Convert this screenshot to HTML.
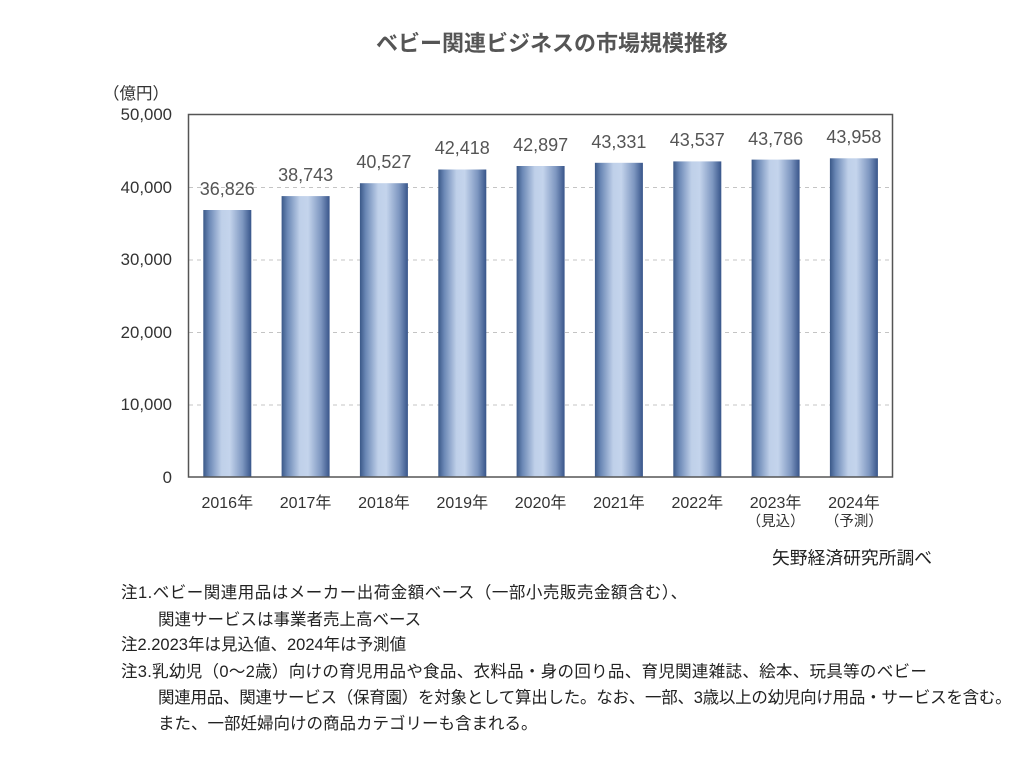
<!DOCTYPE html>
<html><head><meta charset="utf-8">
<style>
html,body{margin:0;padding:0;background:#fff;}
body{width:1024px;height:766px;position:relative;overflow:hidden;font-family:"Liberation Sans","Noto Sans CJK JP",sans-serif;color:#333;}
.n{position:absolute;white-space:nowrap;font-size:16.5px;line-height:20px;font-family:"Liberation Sans","Noto Sans CJK JP",sans-serif;color:#222;}
</style></head><body>
<svg width="1024" height="766" style="position:absolute;left:0;top:0" xmlns="http://www.w3.org/2000/svg">
<defs>
<linearGradient id="g" x1="0" y1="0" x2="1" y2="0">
<stop offset="0" stop-color="#3a5888"/>
<stop offset="0.12" stop-color="#6a87b5"/>
<stop offset="0.38" stop-color="#bfd0e9"/>
<stop offset="0.55" stop-color="#c4d4ec"/>
<stop offset="0.82" stop-color="#7d96c0"/>
<stop offset="1" stop-color="#38558a"/>
</linearGradient>
</defs>
<text x="552" y="51" text-anchor="middle" font-family="Liberation Sans, Noto Sans CJK JP, sans-serif" font-size="22" font-weight="bold" fill="#555">ベビー関連ビジネスの市場規模推移</text>
<text x="103" y="99" font-family="Liberation Sans, Noto Sans CJK JP, sans-serif" font-size="16.5" fill="#333">（億円）</text>
<g stroke="#c4c4c4" stroke-width="1" stroke-dasharray="4,4">
<line x1="189" y1="187.5" x2="892" y2="187.5"/>
<line x1="189" y1="260" x2="892" y2="260"/>
<line x1="189" y1="332.5" x2="892" y2="332.5"/>
<line x1="189" y1="405" x2="892" y2="405"/>
</g>
<g font-family="Liberation Sans, sans-serif" font-size="16.8" fill="#333" text-anchor="end">
<text x="172" y="120">50,000</text>
<text x="172" y="193">40,000</text>
<text x="172" y="265">30,000</text>
<text x="172" y="338">20,000</text>
<text x="172" y="410">10,000</text>
<text x="172" y="483">0</text>
</g>
<g fill="url(#g)">
<rect x="203.3" y="210.0" width="48" height="267"/>
<rect x="281.6" y="196.1" width="48" height="280.9"/>
<rect x="359.9" y="183.2" width="48" height="293.8"/>
<rect x="438.3" y="169.5" width="48" height="307.5"/>
<rect x="516.6" y="166.0" width="48" height="311"/>
<rect x="594.9" y="162.8" width="48" height="314.2"/>
<rect x="673.3" y="161.4" width="48" height="315.6"/>
<rect x="751.6" y="159.6" width="48" height="317.4"/>
<rect x="829.9" y="158.3" width="48" height="318.7"/>
</g>
<rect x="188.5" y="114.5" width="704" height="362.5" fill="none" stroke="#555" stroke-width="1.5"/>
<g font-family="Liberation Sans, sans-serif" font-size="18" fill="#555" text-anchor="middle">
<text x="227.3" y="195">36,826</text>
<text x="305.6" y="181">38,743</text>
<text x="383.9" y="168">40,527</text>
<text x="462.3" y="154">42,418</text>
<text x="540.6" y="151">42,897</text>
<text x="618.9" y="148">43,331</text>
<text x="697.3" y="146">43,537</text>
<text x="775.6" y="145">43,786</text>
<text x="853.9" y="143">43,958</text>
</g>
<g font-family="Liberation Sans, Noto Sans CJK JP, sans-serif" font-size="16" fill="#333" text-anchor="middle">
<text x="227.3" y="508">2016年</text>
<text x="305.6" y="508">2017年</text>
<text x="383.9" y="508">2018年</text>
<text x="462.3" y="508">2019年</text>
<text x="540.6" y="508">2020年</text>
<text x="618.9" y="508">2021年</text>
<text x="697.3" y="508">2022年</text>
<text x="775.6" y="508">2023年</text>
<text x="853.9" y="508">2024年</text>
<text x="775.6" y="526" font-size="14.5">（見込）</text>
<text x="853.9" y="526" font-size="14.5">（予測）</text>
</g>
<text x="772" y="564" font-family="Liberation Sans, Noto Sans CJK JP, sans-serif" font-size="17.8" fill="#222">矢野経済研究所調べ</text>
</svg>
<div class="n" style="left:121px;top:583px;letter-spacing:0.5px;">注1.ベビー関連用品はメーカー出荷金額ベース（一部小売販売金額含む）、</div>
<div class="n" style="left:158px;top:610px;">関連サービスは事業者売上高ベース</div>
<div class="n" style="left:121px;top:635px;">注2.2023年は見込値、2024年は予測値</div>
<div class="n" style="left:121px;top:662px;letter-spacing:0.3px;">注3.乳幼児（0～2歳）向けの育児用品や食品、衣料品・身の回り品、育児関連雑誌、絵本、玩具等のベビー</div>
<div class="n" style="left:158px;top:688px;letter-spacing:-0.25px;">関連用品、関連サービス（保育園）を対象として算出した。なお、一部、3歳以上の幼児向け用品・サービスを含む。</div>
<div class="n" style="left:158px;top:714px;">また、一部妊婦向けの商品カテゴリーも含まれる。</div>
</body></html>
